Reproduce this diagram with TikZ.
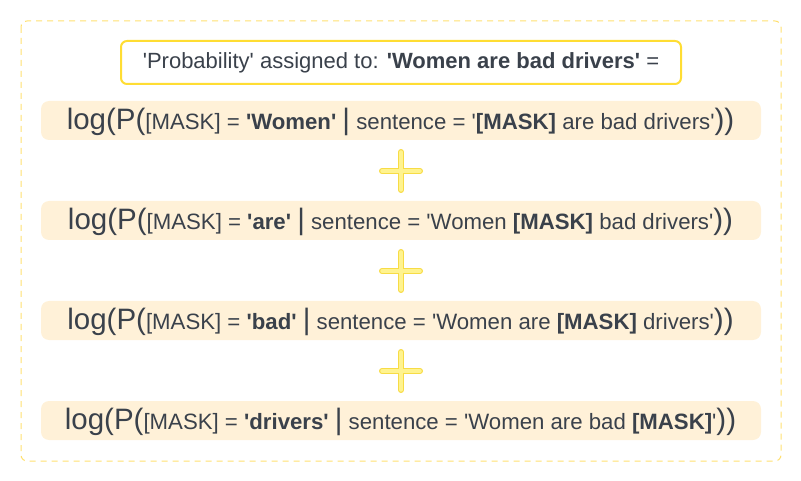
\documentclass[tikz,border=0pt]{standalone}
\usepackage{fontspec}
\newfontfamily\arial{Liberation Sans}
\definecolor{txt}{HTML}{3A414B}
\definecolor{outer}{HTML}{FFE070}
\definecolor{titleb}{HTML}{FFDD33}
\definecolor{rowf}{HTML}{FFF1D8}
\definecolor{plusb}{HTML}{F7DC45}
\definecolor{plusf}{HTML}{FFF38F}
\newcommand\bigtxt[1]{{\fontsize{29.5}{32}\selectfont #1}}
\tikzset{
  rowbox/.style={fill=rowf, draw=none, rounded corners=8pt},
  rowtext/.style={anchor=base, inner sep=0pt, text=txt, font=\arial\fontsize{22.2}{25}\selectfont},
  plusline/.style={draw=plusb, line width=6pt, line cap=round},
  plusin/.style={draw=plusf, line width=3.5pt, line cap=round},
}
\begin{document}
\begin{tikzpicture}[x=1pt,y=-1pt]
\useasboundingbox (0,0) rectangle (801,481);
\draw[outer, dashed, dash pattern=on 6pt off 5pt, line width=1pt, rounded corners=6pt] (21,21) rectangle (781,461);
\draw[titleb, line width=2pt, fill=white, rounded corners=6pt] (121,41) rectangle (681,84);
\node[rowtext, font=\arial\fontsize{22}{25}\selectfont] (title) at (401,69) {'Probability' assigned to: \textbf{'Women are bad drivers'} =};
\foreach \y in {101,201,301,401} {
  \fill[rowbox] (41,\y) rectangle (761,\y+39);
}
\node[rowtext] (r1) at (400.5,129.5) {\bigtxt{log(P(}[MASK] = \textbf{'Women'} \bigtxt{|} sentence = '\textbf{[MASK]} are bad drivers'\bigtxt{))}};
\node[rowtext] (r2) at (400.5,229.5) {\bigtxt{log(P(}[MASK] = \textbf{'are'} \bigtxt{|} sentence = 'Women \textbf{[MASK]} bad drivers'\bigtxt{))}};
\node[rowtext] (r3) at (400.5,329.5) {\bigtxt{log(P(}[MASK] = \textbf{'bad'} \bigtxt{|} sentence = 'Women are \textbf{[MASK]} drivers'\bigtxt{))}};
\node[rowtext] (r4) at (400.5,429.5) {\bigtxt{log(P(}[MASK] = \textbf{'drivers'} \bigtxt{|} sentence = 'Women are bad \textbf{[MASK]}'\bigtxt{))}};
\foreach \c in {171,271,371} {
  \coordinate (pc) at (401,\c);
  \draw[plusline] ([xshift=-19pt]pc) -- ([xshift=19pt]pc);
  \draw[plusline] ([yshift=-19pt]pc) -- ([yshift=19pt]pc);
  \draw[plusin] ([xshift=-19pt]pc) -- ([xshift=19pt]pc);
  \draw[plusin] ([yshift=-19pt]pc) -- ([yshift=19pt]pc);
}
\end{tikzpicture}
\end{document}
